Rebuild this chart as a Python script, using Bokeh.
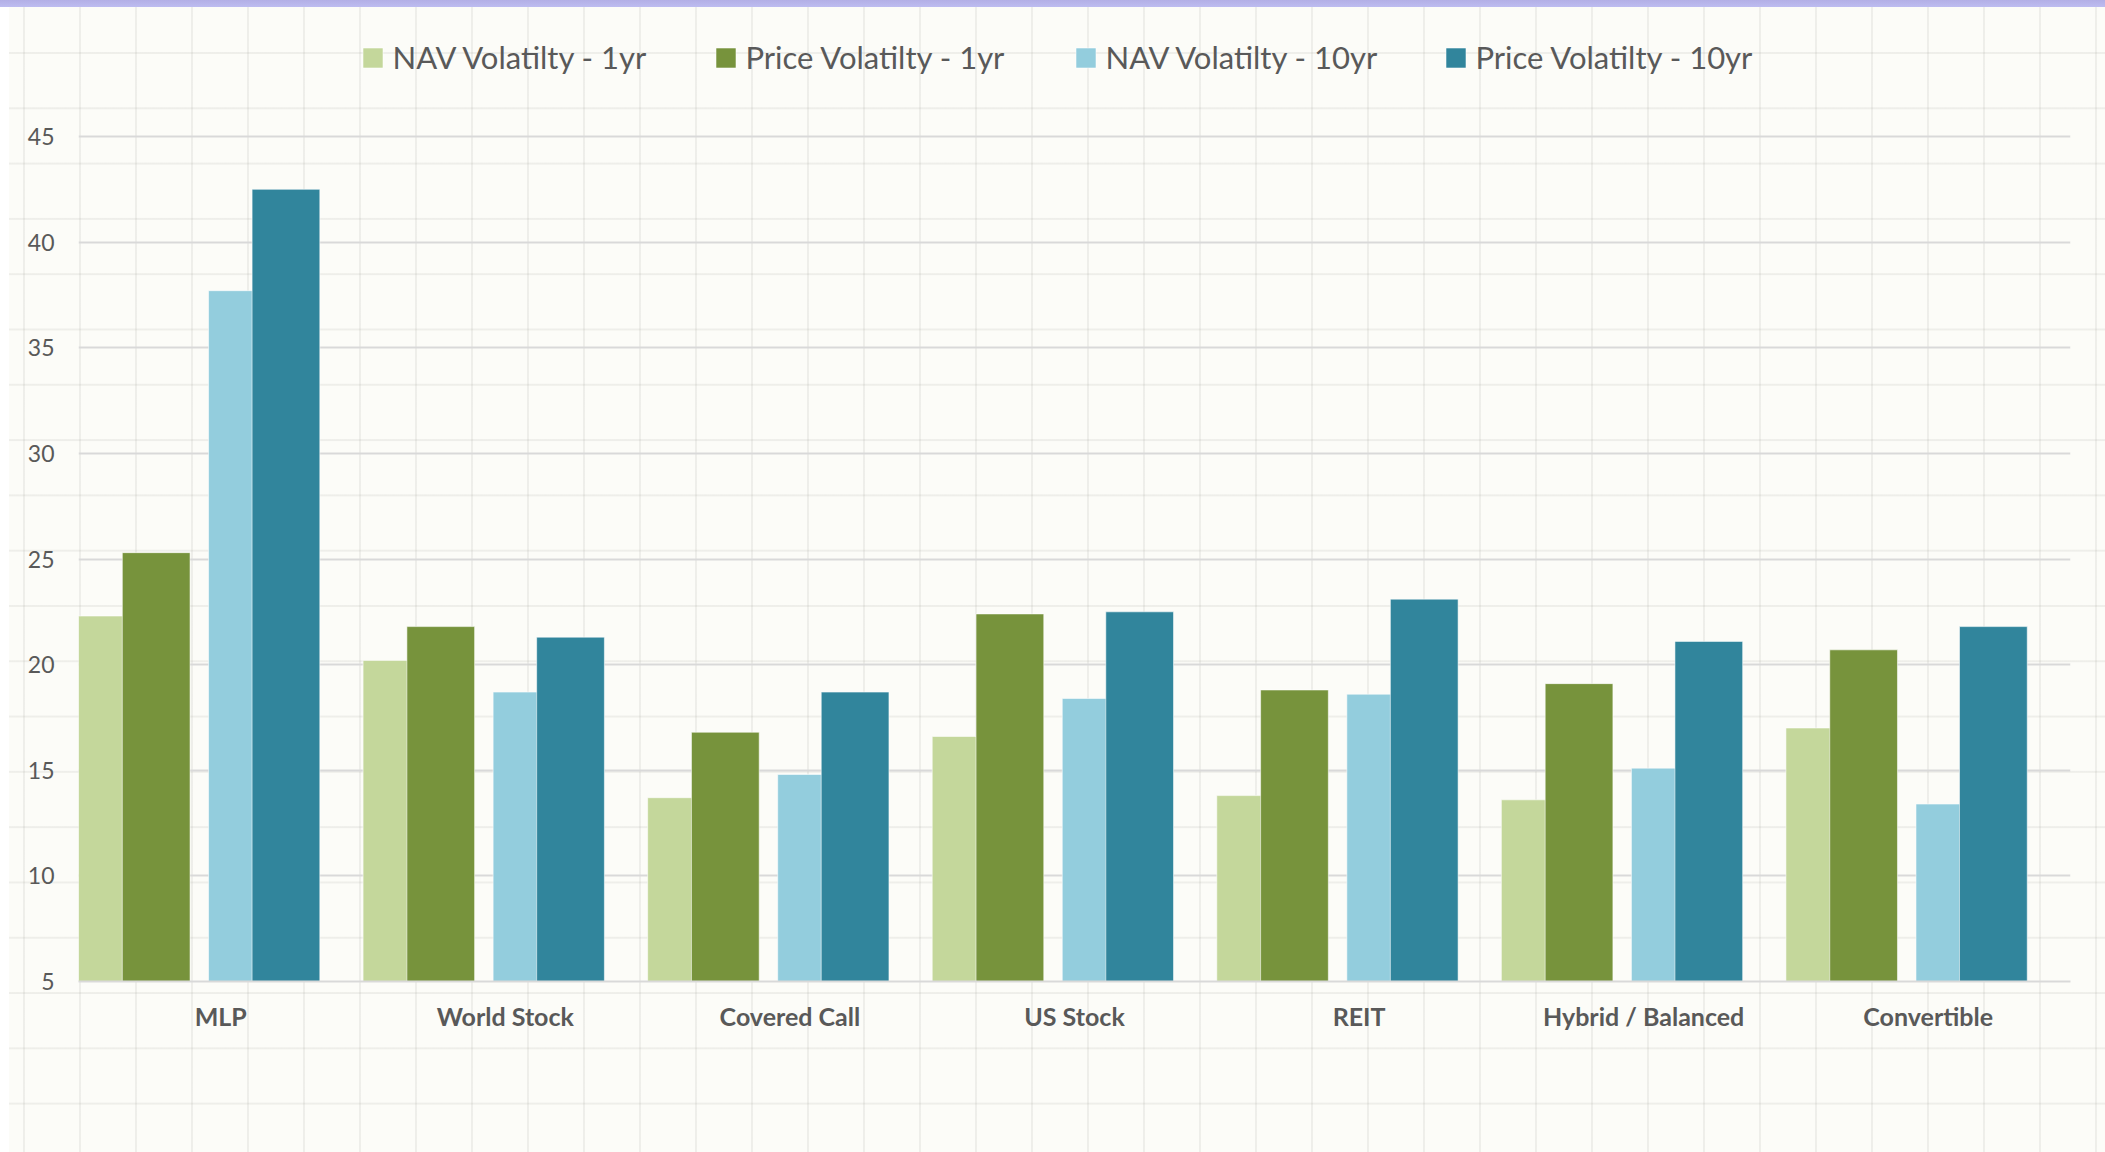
from bokeh.plotting import figure
from bokeh.models import (FactorRange, Range1d, Legend, LegendItem, FixedTicker,
                          InlineStyleSheet, ColumnDataSource)
from bokeh.transform import dodge
from bokeh.embed import file_html
from bokeh.resources import INLINE

# ---------------- data ----------------
categories = ["MLP", "World Stock", "Covered Call", "US Stock", "REIT",
              "Hybrid / Balanced", "Convertible"]
nav_1yr = [22.3, 20.2, 13.7, 16.6, 13.8, 13.6, 17.0]
price_1yr = [25.3, 21.8, 16.8, 22.4, 18.8, 19.1, 20.7]
nav_10yr = [37.7, 18.7, 14.8, 18.4, 18.6, 15.1, 13.4]
price_10yr = [42.5, 21.3, 18.7, 22.5, 23.1, 21.1, 21.8]
series_names = ["NAV Volatilty - 1yr", "Price Volatilty - 1yr",
                "NAV Volatilty - 10yr", "Price Volatilty - 10yr"]
y_ticks = [5, 10, 15, 20, 25, 30, 35, 40, 45]

# ---------------- style ----------------
colors = ["#c4d79b", "#77933c", "#93cddd", "#31859c"]
offsets = [-0.381, -0.227, 0.076, 0.229]
bar_w = 0.238
TXT = "#595959"
FONT = "Lato"

W, H = 2105, 1152
FRAME_L, FRAME_R, FRAME_B = 78, 2070, 981
TOP_45 = 136            # pixel row of the 45 gridline
Y_MIN, Y_MAX = 5, 45
px_per_unit = (FRAME_B - TOP_45) / (Y_MAX - Y_MIN)
y_top = Y_MAX + TOP_45 / px_per_unit   # frame reaches the top edge (legend lives inside)

source = ColumnDataSource(dict(cat=categories, s0=nav_1yr, s1=price_1yr,
                               s2=nav_10yr, s3=price_10yr))

p = figure(width=W, height=H,
           x_range=FactorRange(factors=categories, range_padding=0, factor_padding=0),
           y_range=Range1d(Y_MIN, y_top),
           output_backend="svg", toolbar_location=None,
           min_border_left=FRAME_L, min_border_right=W - FRAME_R,
           min_border_top=0, min_border_bottom=H - FRAME_B)

p.background_fill_alpha = 0
p.border_fill_alpha = 0
p.outline_line_color = None

css = """
:host {
  background-color: #fcfcf8;
  background-image:
    linear-gradient(to bottom, #b3afe6 0px, #bdbcf0 7px, transparent 7px),
    linear-gradient(to right, #ffffff 0px, #ffffff 9px, transparent 9px),
    linear-gradient(to right, rgba(120,120,110,0.10) 2px, transparent 2px),
    linear-gradient(to bottom, rgba(120,120,110,0.10) 2px, transparent 2px);
  background-size: 100% 100%, 100% 100%, 56px 55.3px, 56px 55.3px;
  background-repeat: no-repeat, no-repeat, repeat, repeat;
  background-position: 0 0, 0 0, 23px 0, 0 52px;
}
"""
p.stylesheets = [InlineStyleSheet(css=css)]

renderers = []
for i, col in enumerate(["s0", "s1", "s2", "s3"]):
    r = p.vbar(x=dodge("cat", offsets[i], range=p.x_range), top=col, bottom=0,
               width=bar_w, source=source, fill_color=colors[i],
               line_color="#ffffff", line_alpha=0.55, line_width=1)
    renderers.append(r)

# axes
p.yaxis.ticker = FixedTicker(ticks=y_ticks)
p.yaxis.axis_line_color = None
p.yaxis.major_tick_line_color = None
p.yaxis.minor_tick_line_color = None
p.yaxis.major_label_standoff = 18
p.yaxis.major_label_text_font = FONT
p.yaxis.major_label_text_font_size = "23px"
p.yaxis.major_label_text_color = TXT

p.xaxis.axis_line_color = "#d9d9d9"
p.xaxis.axis_line_width = 2
p.xaxis.major_tick_line_color = None
p.xaxis.minor_tick_line_color = None
p.xaxis.major_label_standoff = 13
p.xaxis.major_label_text_font = FONT
p.xaxis.major_label_text_font_style = "bold"
p.xaxis.major_label_text_font_size = "25px"
p.xaxis.major_label_text_color = TXT

p.xgrid.grid_line_color = None
p.ygrid.grid_line_color = "#d9d9d9"
p.ygrid.grid_line_width = 2

# legends: one per item, positioned like the reference
legend_x = [281.5, 634.5, 994.5, 1364.5]
for i, r in enumerate(renderers):
    lg = Legend(items=[LegendItem(label=series_names[i], renderers=[r])],
                location=(legend_x[i], 905), orientation="horizontal",
                padding=0, margin=0, spacing=0,
                border_line_color=None, background_fill_alpha=0,
                glyph_width=25, glyph_height=25, label_standoff=8,
                label_text_font=FONT, label_text_font_size="31px",
                label_text_color=TXT, label_height=20)
    p.add_layout(lg, "center")

open("out.html", "w").write(file_html(p, INLINE))
